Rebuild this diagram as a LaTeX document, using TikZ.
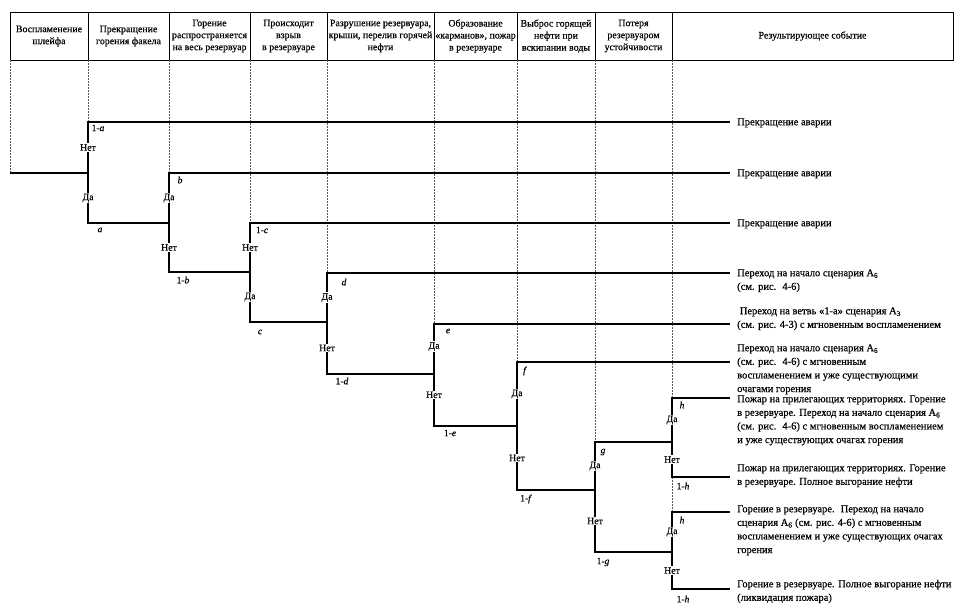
\documentclass[tikz,border=0pt]{standalone}
\usepackage{fontspec}
\setmainfont[FakeBold=0.5]{Liberation Serif}
\usetikzlibrary{calc}
\begin{document}
\begin{tikzpicture}[x=1pt,y=-1pt,
  br/.style={line width=1.4pt},
  hdl/.style={line width=1pt},
  dv/.style={line width=0.5pt, black!65, dash pattern=on 1.5pt off 1.5pt},
  yn/.style={fill=white, inner sep=0.8pt, font=\fontsize{9.8}{10}\selectfont},
  pl/.style={inner sep=0pt, font=\fontsize{9.5}{10}\selectfont},
  res/.style={anchor=north west, align=left, inner sep=0pt, font=\fontsize{10.5}{13.6}\selectfont},
  hd/.style={align=center, inner sep=0pt, font=\fontsize{9.9}{12}\selectfont}]
\useasboundingbox (0,0) rectangle (961,606);

% header
\draw[hdl] (10,12) rectangle (953,60);
\foreach \n/\x in {k1/88,k2/169,k3/250,k4/327,k5/434,k6/517,k7/595,k8/672}{
  \coordinate (\n) at (\x,60);
  \draw[hdl] (\n) -- ++(0,-48);
}
\coordinate (k0) at (10,60);
\node[hd] (t1) at (49,36) {Воспламенение\\шлейфа};
\node[hd] (t2) at (128.5,36) {Прекращение\\горения факела};
\node[hd] (t3) at (209.5,36) {Горение\\распространяется\\на весь резервуар};
\node[hd] (t4) at (288.5,36) {Происходит\\взрыв\\в резервуаре};
\node[hd] (t5) at (380.5,36) {Разрушение резервуара,\\крыши, перелив горячей\\нефти};
\node[hd] (t6) at (475.5,36) {Образование\\«карманов», пожар\\в резервуаре};
\node[hd] (t7) at (556,36) {Выброс горящей\\нефти при\\вскипании воды};
\node[hd] (t8) at (633.5,36) {Потеря\\резервуаром\\устойчивости};
\node[hd] (t9) at (812.5,36) {Результирующее событие};

% tree points
\coordinate (r0) at (10,173);
\coordinate (aT) at (88,122);  \coordinate (aM) at (88,173);  \coordinate (aB) at (88,223);
\coordinate (bT) at (169,173); \coordinate (bM) at (169,223); \coordinate (bB) at (169,272);
\coordinate (cT) at (250,223); \coordinate (cM) at (250,272); \coordinate (cB) at (250,322);
\coordinate (dT) at (327,273); \coordinate (dM) at (327,322); \coordinate (dB) at (327,374);
\coordinate (eT) at (434,324); \coordinate (eM) at (434,374); \coordinate (eB) at (434,426);
\coordinate (fT) at (517,362); \coordinate (fM) at (517,426); \coordinate (fB) at (517,490);
\coordinate (gT) at (595,442); \coordinate (gM) at (595,490); \coordinate (gB) at (595,552);
\coordinate (hT) at (672,398); \coordinate (hM) at (672,442); \coordinate (hB) at (672,477);
\coordinate (iT) at (672,512); \coordinate (iM) at (672,552); \coordinate (iB) at (672,589);
% line ends
\coordinate (ea) at (730,122); \coordinate (eb) at (730,173); \coordinate (ec) at (730,223);
\coordinate (ed) at (730,273); \coordinate (ee) at (730,324); \coordinate (ef) at (730,362);
\coordinate (eh1) at (730,398); \coordinate (eh2) at (730,477);
\coordinate (ei1) at (730,512); \coordinate (ei2) at (730,589);

% dashed column lines
\draw[dv] (k0) -- (r0);
\draw[dv] (k1) -- (aT);
\draw[dv] (k2) -- (bT);
\draw[dv] (k3) -- (cT);
\draw[dv] (k4) -- (dT);
\draw[dv] (k5) -- (eT);
\draw[dv] (k6) -- (fT);
\draw[dv] (k7) -- (gT);
\draw[dv] (k8) -- (hT);
\draw[dv] (hB) -- (iT);

% branches
\draw[br] (r0) -- (aM);
\draw[br] (ea) -- (aT) -- (aB) -- (bM);
\draw[br] (eb) -- (bT) -- (bB) -- (cM);
\draw[br] (ec) -- (cT) -- (cB) -- (dM);
\draw[br] (ed) -- (dT) -- (dB) -- (eM);
\draw[br] (ee) -- (eT) -- (eB) -- (fM);
\draw[br] (ef) -- (fT) -- (fB) -- (gM);
\draw[br] (hM) -- (gT) -- (gB) -- (iM);
\draw[br] (eh1) -- (hT) -- (hB) -- (eh2);
\draw[br] (ei1) -- (iT) -- (iB) -- (ei2);

% yes / no labels
\node[yn] (ya1) at ($(aT)!0.5!(aM)$) {Нет};
\node[yn] (ya2) at ($(aM)!0.5!(aB)$) {Да};
\node[yn] (yb1) at ($(bT)!0.5!(bM)$) {Да};
\node[yn] (yb2) at ($(bM)!0.5!(bB)$) {Нет};
\node[yn] (yc1) at ($(cT)!0.5!(cM)$) {Нет};
\node[yn] (yc2) at ($(cM)!0.5!(cB)$) {Да};
\node[yn] (yd1) at ($(dT)!0.5!(dM)$) {Да};
\node[yn] (yd2) at ($(dM)!0.5!(dB)$) {Нет};
\node[yn] (ye1) at ($(eT)!0.45!(eM)$) {Да};
\node[yn] (ye2) at ($(eM)!0.4!(eB)$) {Нет};
\node[yn] (yf1) at ($(fT)!0.5!(fM)$) {Да};
\node[yn] (yf2) at ($(fM)!0.5!(fB)$) {Нет};
\node[yn] (yg1) at ($(gT)!0.5!(gM)$) {Да};
\node[yn] (yg2) at ($(gM)!0.5!(gB)$) {Нет};
\node[yn] (yh1) at ($(hT)!0.5!(hM)$) {Да};
\node[yn] (yh2) at ($(hM)!0.5!(hB)$) {Нет};
\node[yn] (yi1) at ($(iT)!0.5!(iM)$) {Да};
\node[yn] (yi2) at ($(iM)!0.5!(iB)$) {Нет};

% probability labels
\node[pl] (pa1) at ($(aT)+(10,6)$) {1-\textit{a}};
\node[pl] (pa2) at ($(aB)+(12,7)$) {\textit{a}};
\node[pl] (pb1) at ($(bT)+(11,7)$) {\textit{b}};
\node[pl] (pb2) at ($(bB)+(14,8)$) {1-\textit{b}};
\node[pl] (pc1) at ($(cT)+(12,7)$) {1-\textit{c}};
\node[pl] (pc2) at ($(cB)+(10,10)$) {\textit{c}};
\node[pl] (pd1) at ($(dT)+(17,9)$) {\textit{d}};
\node[pl] (pd2) at ($(dB)+(15,7)$) {1-\textit{d}};
\node[pl] (pe1) at ($(eT)+(14,7)$) {\textit{e}};
\node[pl] (pe2) at ($(eB)+(16,7)$) {1-\textit{e}};
\node[pl] (pf1) at ($(fT)+(8,9)$) {\textit{f}};
\node[pl] (pf2) at ($(fB)+(9,9)$) {1-\textit{f}};
\node[pl] (pg1) at ($(gT)+(8,10)$) {\textit{g}};
\node[pl] (pg2) at ($(gB)+(8,10)$) {1-\textit{g}};
\node[pl] (ph1) at ($(hT)+(10,7)$) {\textit{h}};
\node[pl] (ph2) at ($(hB)+(11,9)$) {1-\textit{h}};
\node[pl] (pi1) at ($(iT)+(10,8)$) {\textit{h}};
\node[pl] (pi2) at ($(iB)+(11,10)$) {1-\textit{h}};

% resulting events
\node[res] (o1) at (737,{122-6.5}) {\strut Прекращение аварии};
\node[res] (o2) at (737,{173-6.5}) {\strut Прекращение аварии};
\node[res] (o3) at (737,{223-6.5}) {\strut Прекращение аварии};
\node[res] (o4) at (737,{273-6.5}) {\strut Переход на начало сценария А\textsubscript{6}\\(см. рис.~ 4-6)};
\node[res] (o5) at (737,{311-6.5}) {\strut\ Переход на ветвь «1-а» сценария А\textsubscript{3}\\(см. рис. 4-3) с мгновенным воспламенением};
\node[res] (o6) at (737,{348-6.5}) {\strut Переход на начало сценария А\textsubscript{6}\\(см. рис.~ 4-6) с мгновенным\\воспламенением и уже существующими\\очагами горения};
\node[res] (o7) at (737,{399-6.5}) {\strut Пожар на прилегающих территориях. Горение\\в резервуаре. Переход на начало сценария А\textsubscript{6}\\(см. рис.~ 4-6) с мгновенным воспламенением\\и уже существующих очагах горения};
\node[res] (o8) at (737,{468-6.5}) {\strut Пожар на прилегающих территориях. Горение\\в резервуаре. Полное выгорание нефти};
\node[res] (o9) at (737,{509-6.5}) {\strut Горение в резервуаре.~ Переход на начало\\сценария А\textsubscript{6} (см. рис. 4-6) с мгновенным\\воспламенением и уже существующих очагах\\горения};
\node[res] (o10) at (737,{584-6.5}) {\strut Горение в резервуаре. Полное выгорание нефти\\(ликвидация пожара)};
\end{tikzpicture}
\end{document}
